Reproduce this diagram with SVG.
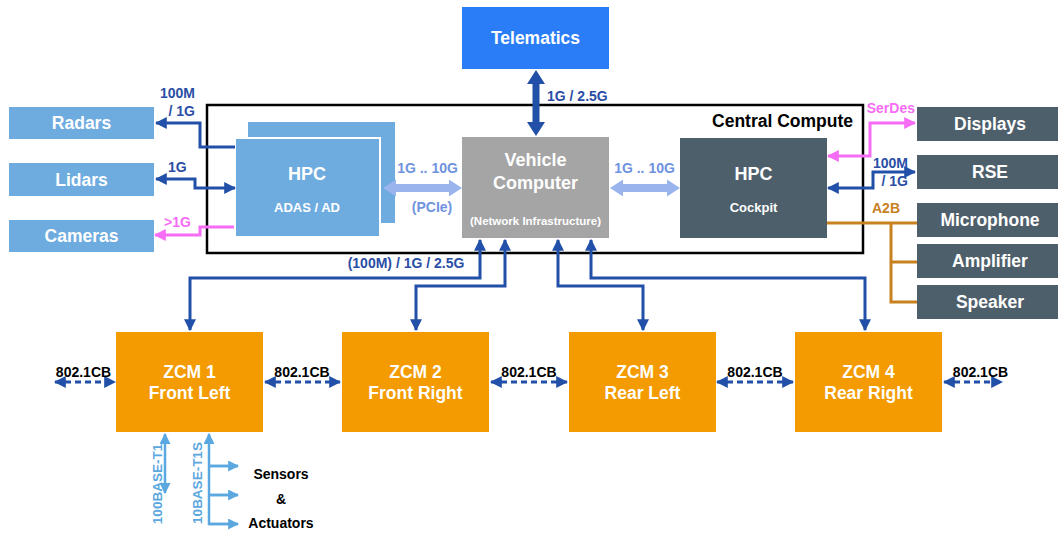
<svg xmlns="http://www.w3.org/2000/svg" width="1058" height="534" viewBox="0 0 1058 534">
<style>
text{font-family:"Liberation Sans",Arial,sans-serif;font-weight:bold}
.w{fill:#fff;text-anchor:middle}
.big{font-size:17.5px}
.sm{font-size:13px}
.lb{font-size:14px}
.db{fill:#2a4ea5}
.pk{fill:#f76cf4}
.lp{fill:#6f93df}
.or{fill:#c8811f}
.blk{fill:#000}
.lblue{fill:#6eace0}
.slate{fill:#4e5f6c}
.zcm{fill:#f39b00}
.bl{fill:none;stroke:#2250a8;stroke-width:3}
.pl{fill:none;stroke:#f76cf4;stroke-width:3}
.ol{fill:none;stroke:#c8811f;stroke-width:3}
.ll{fill:none;stroke:#5ba7e0;stroke-width:2.5}
.dash{fill:none;stroke:#2250a8;stroke-width:3;stroke-dasharray:6 4}
</style>
<defs>
<marker id="ab" markerUnits="userSpaceOnUse" markerWidth="12" markerHeight="12" viewBox="0 0 10 10" refX="9" refY="5" orient="auto-start-reverse"><path d="M0,0 L10,5 L0,10 z" fill="#2250a8"/></marker>
<marker id="ap" markerUnits="userSpaceOnUse" markerWidth="12" markerHeight="12" viewBox="0 0 10 10" refX="9" refY="5" orient="auto-start-reverse"><path d="M0,0 L10,5 L0,10 z" fill="#f76cf4"/></marker>
<marker id="al" markerUnits="userSpaceOnUse" markerWidth="11" markerHeight="11" viewBox="0 0 10 10" refX="9" refY="5" orient="auto-start-reverse"><path d="M0,0 L10,5 L0,10 z" fill="#5ba7e0"/></marker>
</defs>

<rect id="central-compute" x="207" y="105" width="656" height="148" fill="none" stroke="#000" stroke-width="2.5"/>
<text x="853" y="127" class="big blk" text-anchor="end">Central Compute</text>

<g id="telematics">
<rect x="462" y="7" width="147" height="62" fill="#2a7df7"/>
<text x="535.5" y="44" class="w big">Telematics</text>
</g>

<g id="radars"><rect x="9" y="107" width="145" height="32" class="lblue"/><text x="81.5" y="129" class="w big">Radars</text></g>
<g id="lidars"><rect x="9" y="163" width="145" height="33" class="lblue"/><text x="81.5" y="185.5" class="w big">Lidars</text></g>
<g id="cameras"><rect x="9" y="220" width="145" height="32" class="lblue"/><text x="81.5" y="242" class="w big">Cameras</text></g>

<g id="hpc-adas">
<rect x="248" y="122" width="147" height="101" class="lblue"/>
<rect x="235" y="138" width="145" height="99" class="lblue" stroke="#fff" stroke-width="2"/>
<text x="307" y="179.5" class="w" font-size="18">HPC</text>
<text x="307" y="211.5" class="w sm">ADAS / AD</text>
</g>

<g id="vehicle-computer">
<rect x="462" y="137" width="147" height="101" fill="#a5a5a5"/>
<text x="535.5" y="165.5" class="w" font-size="18">Vehicle</text>
<text x="535.5" y="188.5" class="w" font-size="18">Computer</text>
<text x="535.5" y="225" class="w" font-size="11.5">(Network Infrastructure)</text>
</g>

<g id="hpc-cockpit">
<rect x="680" y="138" width="147" height="100" class="slate"/>
<text x="753.5" y="179.5" class="w" font-size="18">HPC</text>
<text x="753.5" y="211.5" class="w sm">Cockpit</text>
</g>

<g id="displays"><rect x="917" y="107" width="141" height="34" class="slate"/><text x="990" y="130" class="w big">Displays</text></g>
<g id="rse"><rect x="917" y="155" width="141" height="34" class="slate"/><text x="990" y="178" class="w big">RSE</text></g>
<g id="microphone"><rect x="917" y="203" width="141" height="34" class="slate"/><text x="990" y="226" class="w big">Microphone</text></g>
<g id="amplifier"><rect x="917" y="244" width="141" height="34" class="slate"/><text x="990" y="267" class="w big">Amplifier</text></g>
<g id="speaker"><rect x="917" y="285" width="141" height="34" class="slate"/><text x="990" y="308" class="w big">Speaker</text></g>

<g id="zcm1"><rect x="116" y="332" width="147" height="100" class="zcm"/><text x="189.5" y="378" class="w big">ZCM 1</text><text x="189.5" y="399" class="w big">Front Left</text></g>
<g id="zcm2"><rect x="342" y="332" width="147" height="100" class="zcm"/><text x="415.5" y="378" class="w big">ZCM 2</text><text x="415.5" y="399" class="w big">Front Right</text></g>
<g id="zcm3"><rect x="569" y="332" width="147" height="100" class="zcm"/><text x="642.5" y="378" class="w big">ZCM 3</text><text x="642.5" y="399" class="w big">Rear Left</text></g>
<g id="zcm4"><rect x="795" y="332" width="147" height="100" class="zcm"/><text x="868.5" y="378" class="w big">ZCM 4</text><text x="868.5" y="399" class="w big">Rear Right</text></g>

<g id="sensors-actuators">
<text x="281" y="479" class="lb blk" text-anchor="middle">Sensors</text>
<text x="281" y="504" class="lb blk" text-anchor="middle">&amp;</text>
<text x="281" y="528" class="lb blk" text-anchor="middle">Actuators</text>
</g>

<g id="connectors">
<polygon points="536,70 545,84 539.5,84 539.5,122 545,122 536,136 527,122 532.5,122 532.5,84 527,84" fill="#2250a8"/>
<text x="547" y="101" class="lb db">1G / 2.5G</text>

<polygon points="383,188 396,179.5 396,184 449,184 449,179.5 462,188 449,196.5 449,192 396,192 396,196.5" fill="#9ab4ee"/>
<text x="427.5" y="173" class="lb lp" text-anchor="middle">1G .. 10G</text>
<text x="432" y="212" class="lb lp" text-anchor="middle">(PCIe)</text>
<polygon points="610,188 623,179.5 623,184 667,184 667,179.5 680,188 667,196.5 667,192 623,192 623,196.5" fill="#9ab4ee"/>
<text x="644.5" y="173" class="lb lp" text-anchor="middle">1G .. 10G</text>

<path d="M235,147 H200 V123 H156" class="bl" marker-end="url(#ab)"/>
<text x="195" y="98" class="lb db" text-anchor="end">100M</text>
<text x="195" y="116" class="lb db" text-anchor="end">/ 1G</text>
<path d="M156,179 H195 V188 H235" class="bl" marker-start="url(#ab)" marker-end="url(#ab)"/>
<text x="168" y="172" class="lb db">1G</text>
<path d="M234,227 H200 V235 H155" class="pl" marker-end="url(#ap)"/>
<text x="164" y="227" class="lb pk">&gt;1G</text>

<path d="M915,123 H870 V156 H828" class="pl" marker-start="url(#ap)" marker-end="url(#ap)"/>
<text x="915" y="113" class="lb pk" text-anchor="end">SerDes</text>
<path d="M915,172 H873 V188 H828" class="bl" marker-start="url(#ab)" marker-end="url(#ab)"/>
<text x="908" y="168" class="lb db" text-anchor="end">100M</text>
<text x="908" y="186" class="lb db" text-anchor="end">/ 1G</text>
<path d="M827,223 H917 M891,223 V302 H917 M891,262 H917" class="ol"/>
<text x="872" y="213" class="lb or">A2B</text>

<path d="M480,240 V278 H190 V330" class="bl" marker-start="url(#ab)" marker-end="url(#ab)"/>
<path d="M505,240 V286 H416 V330" class="bl" marker-start="url(#ab)" marker-end="url(#ab)"/>
<path d="M558,240 V286 H643 V330" class="bl" marker-start="url(#ab)" marker-end="url(#ab)"/>
<path d="M591,240 V278 H865 V330" class="bl" marker-start="url(#ab)" marker-end="url(#ab)"/>
<text x="406" y="268" class="lb db" text-anchor="middle">(100M) / 1G / 2.5G</text>

<path d="M55,382 H115" class="dash" marker-start="url(#ab)" marker-end="url(#ab)"/>
<text x="83.5" y="377" class="lb blk" text-anchor="middle">802.1CB</text>
<path d="M265,382 H340" class="dash" marker-start="url(#ab)" marker-end="url(#ab)"/>
<text x="302" y="377" class="lb blk" text-anchor="middle">802.1CB</text>
<path d="M491,382 H567" class="dash" marker-start="url(#ab)" marker-end="url(#ab)"/>
<text x="529" y="377" class="lb blk" text-anchor="middle">802.1CB</text>
<path d="M717,382 H793" class="dash" marker-start="url(#ab)" marker-end="url(#ab)"/>
<text x="755" y="377" class="lb blk" text-anchor="middle">802.1CB</text>
<path d="M944,382 H1002" class="dash" marker-start="url(#ab)" marker-end="url(#ab)"/>
<text x="980.5" y="377" class="lb blk" text-anchor="middle">802.1CB</text>

<path d="M165,434 V493" class="ll" marker-start="url(#al)" marker-end="url(#al)"/>
<text transform="translate(161.5,484) rotate(-90)" font-size="13.5" fill="#5ba7e0" text-anchor="middle">100BASE-T1</text>
<path d="M209,434 V524 H238 M209,466 H238 M209,495 H238" class="ll" marker-start="url(#al)"/>
<path d="M209,466 H238" class="ll" marker-end="url(#al)"/>
<path d="M209,495 H238" class="ll" marker-end="url(#al)"/>
<path d="M209,524 H238" class="ll" marker-end="url(#al)"/>
<text transform="translate(202,483) rotate(-90)" font-size="13.5" fill="#5ba7e0" text-anchor="middle">10BASE-T1S</text>
</g>
</svg>
